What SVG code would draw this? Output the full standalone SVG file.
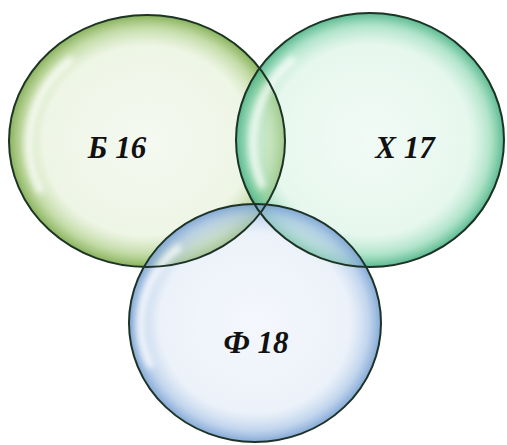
<svg xmlns="http://www.w3.org/2000/svg" width="507" height="445" viewBox="0 0 507 445">
<defs>
<radialGradient id="gB" cx="0.5" cy="0.5" r="0.5">
<stop offset="0" stop-color="#e2eed6" stop-opacity="0.35"/>
<stop offset="0.75" stop-color="#d6e8c2" stop-opacity="0.42"/>
<stop offset="0.9" stop-color="#a9cc80" stop-opacity="0.7"/>
<stop offset="1" stop-color="#7aa848" stop-opacity="0.9"/>
</radialGradient>
<radialGradient id="gX" cx="0.5" cy="0.5" r="0.5">
<stop offset="0" stop-color="#d8f2e4" stop-opacity="0.35"/>
<stop offset="0.75" stop-color="#c4ecd6" stop-opacity="0.42"/>
<stop offset="0.9" stop-color="#8ed8b2" stop-opacity="0.7"/>
<stop offset="1" stop-color="#48b284" stop-opacity="0.9"/>
</radialGradient>
<radialGradient id="gF" cx="0.5" cy="0.5" r="0.5">
<stop offset="0" stop-color="#e0e9f7" stop-opacity="0.35"/>
<stop offset="0.75" stop-color="#d2e0f2" stop-opacity="0.42"/>
<stop offset="0.9" stop-color="#a8c4e6" stop-opacity="0.7"/>
<stop offset="1" stop-color="#779fd2" stop-opacity="0.9"/>
</radialGradient>
<filter id="blur" x="-20%" y="-20%" width="140%" height="140%"><feGaussianBlur stdDeviation="3"/></filter>
<style>
.ring{stroke:#1d3325;stroke-width:2;}
.hl{fill:none;stroke:#ffffff;stroke-width:7;stroke-linecap:round;opacity:0.85;filter:url(#blur);}
.lbl{font-family:"Liberation Serif","Times New Roman",serif;font-weight:bold;font-style:italic;font-size:31px;fill:#111;text-anchor:middle;}
</style>
</defs>
<rect width="507" height="445" fill="#ffffff"/>
<g id="node-B">
<ellipse cx="147" cy="141" rx="138" ry="126" fill="url(#gB)"/>
<path class="hl" d="M40 190 A118 110 0 0 1 70 60"/>
</g>
<g id="node-X">
<ellipse cx="370" cy="140" rx="134" ry="127" fill="url(#gX)"/>
<path class="hl" d="M262 185 A114 110 0 0 1 292 60"/>
</g>
<g id="node-F">
<ellipse cx="255" cy="323" rx="126" ry="119" fill="url(#gF)"/>
<path class="hl" d="M150 365 A106 100 0 0 1 178 248"/>
</g>
<g id="rings">
<ellipse class="ring" cx="147" cy="141" rx="138" ry="126" fill="none"/>
<ellipse class="ring" cx="370" cy="140" rx="134" ry="127" fill="none"/>
<ellipse class="ring" cx="255" cy="323" rx="126" ry="119" fill="none"/>
</g>
<g id="labels">
<text class="lbl" x="117" y="158">Б 16</text>
<text class="lbl" x="405" y="158">Х 17</text>
<text class="lbl" x="256" y="353">Ф 18</text>
</g>
</svg>
